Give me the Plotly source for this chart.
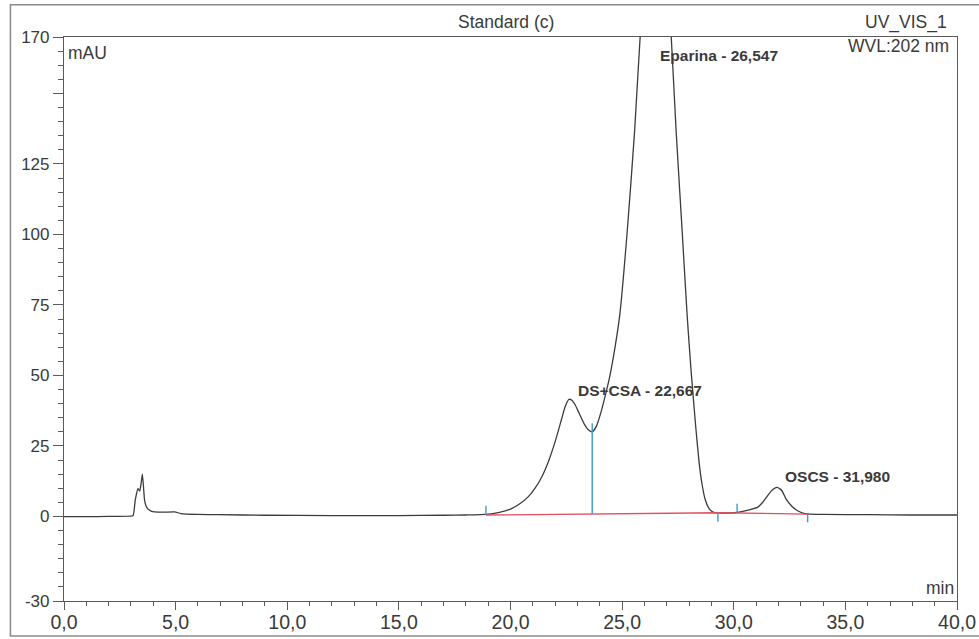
import plotly.graph_objects as go

# Chromatogram trace: retention time (min) and detector signal (mAU)
time_min = [
    0.0, 1.0, 2.0, 2.9, 3.09, 3.19, 3.31, 3.39, 3.45, 3.51, 3.56, 3.61, 3.68, 3.76,
    3.9, 4.06, 4.5, 4.96, 5.24, 6.0, 6.9, 9.0, 12.0, 15.0, 17.0, 18.0, 18.9, 19.5,
    20.0, 20.4, 20.8, 21.1, 21.4, 21.7, 22.0, 22.27, 22.45, 22.62, 22.75, 22.9,
    23.02, 23.3, 23.5, 23.66, 23.85, 24.07, 24.25, 24.43, 24.67, 24.9, 25.23, 25.56,
    25.81, 26.05, 26.3, 26.55, 26.8, 27.0, 27.2, 27.42, 27.69, 27.91, 28.09, 28.3,
    28.45, 28.58, 28.72, 28.87, 29.0, 29.14, 29.5, 30.0, 30.3, 30.7, 31.08, 31.3,
    31.52, 31.75, 31.95, 32.15, 32.34, 32.6, 32.86, 33.1, 33.31, 34.0, 36.0, 38.0, 40.0,
]
signal_mau = [
    -0.1, -0.1, 0.0, 0.1, 0.2, 5.7, 9.8, 9.0, 11.5, 15.0, 10.5, 5.7, 3.6, 2.6,
    1.9, 1.6, 1.5, 1.6, 1.0, 0.7, 0.6, 0.4, 0.3, 0.3, 0.4, 0.5, 0.7, 1.4,
    2.6, 4.4, 7.0, 10.0, 14.0, 19.5, 26.5, 34.0, 39.0, 41.5, 41.2, 39.5,
    37.5, 32.8, 30.6, 30.0, 32.0, 37.4, 43.0, 49.0, 59.4, 71.8, 101.2, 136.7,
    170.4, 193.0, 208.0, 214.0, 207.0, 192.0, 170.0, 136.5, 101.0, 71.6, 51.5, 31.5,
    19.0, 11.4, 6.0, 3.1, 1.9, 1.3, 1.2, 1.3, 1.6, 2.3, 3.3, 5.0,
    7.4, 9.5, 10.3, 9.2, 6.2, 3.6, 2.0, 1.2, 0.9, 0.7, 0.6, 0.5, 0.5,
]

# Integration baseline (red) and peak delimiters (blue)
baseline_time = [18.9, 29.29, 33.31]
baseline_mau = [0.5, 1.3, 0.8]
delim_time = [18.9, 23.66, 29.29, 30.15, 33.31]
delim_low = [0.6, 0.9, -1.9, 1.3, -2.1]
delim_high = [3.8, 33.0, 1.3, 4.5, 0.9]

# Identified peaks
peak_names = ["DS+CSA", "Eparina", "OSCS"]
peak_times = [22.667, 26.547, 31.980]

# Axis ticks
x_tickvals = [0, 5, 10, 15, 20, 25, 30, 35, 40]
x_ticktext = ["0,0", "5,0", "10,0", "15,0", "20,0", "25,0", "30,0", "35,0", "40,0"]
y_tickvals = [-30, 0, 25, 50, 75, 100, 125, 150, 170]
y_ticktext = ["-30", "0", "25", "50", "75", "100", "125", "", "170"]

FONT = "Liberation Sans, Arial, sans-serif"
INK = "#3a3a3a"
AXIS = "#5a5a5a"

fig = go.Figure()

fig.add_trace(go.Scatter(
    x=time_min, y=signal_mau, mode="lines",
    line=dict(color="#3c3c3c", width=1.3, shape="spline", smoothing=0.5),
    hoverinfo="x+y", showlegend=False,
))

fig.add_trace(go.Scatter(
    x=baseline_time, y=baseline_mau, mode="lines",
    line=dict(color="#e0505e", width=1.3), showlegend=False,
))

seg_x, seg_y = [], []
for t, lo, hi in zip(delim_time, delim_low, delim_high):
    seg_x += [t, t, None]
    seg_y += [lo, hi, None]
fig.add_trace(go.Scatter(
    x=seg_x, y=seg_y, mode="lines",
    line=dict(color="#3b9bd0", width=1.4), showlegend=False,
))

# Peak labels (left edge, vertical centre in data units)
label_pos = {"DS+CSA": (22.93, 44.5), "Eparina": (26.6, 163.6), "OSCS": (32.21, 14.3)}
for name, rt in zip(peak_names, peak_times):
    lx, ly = label_pos[name]
    fig.add_annotation(
        x=lx, y=ly, xref="x", yref="y", xanchor="left", yanchor="middle",
        text=f"<b>{name} - {rt:.3f}</b>".replace(".", ","), showarrow=False,
        font=dict(family=FONT, size=15.5, color=INK),
    )

# Header and unit captions
texts = [
    ("Standard (c)", 0.495, 1.026, "center"),
    ("UV_VIS_1", 0.991, 1.026, "right"),
    ("WVL:202 nm", 0.993, 0.984, "right"),
    ("mAU", 0.002, 0.972, "left"),
    ("min", 0.999, 0.023, "right"),
]
for txt, px, py, anchor in texts:
    fig.add_annotation(
        x=px, y=py, xref="paper", yref="paper", xanchor=anchor, yanchor="middle",
        text=txt, showarrow=False, font=dict(family=FONT, size=17.5, color=INK),
    )

# Outer report frame
fig.add_shape(
    type="rect", xref="paper", yref="paper",
    x0=-0.06, x1=1.05, y0=-0.062, y1=1.057,
    line=dict(color="#8a8a8a", width=1.5), layer="below",
)

fig.update_layout(
    width=979, height=639,
    margin=dict(l=64, r=22, t=37, b=38),
    paper_bgcolor="white", plot_bgcolor="white",
    font=dict(family=FONT, color=INK),
    showlegend=False,
    xaxis=dict(
        range=[0, 40], tickvals=x_tickvals, ticktext=x_ticktext,
        automargin=False,
        showgrid=False, zeroline=False, showline=True, mirror=True,
        linecolor=AXIS, linewidth=1.2,
        ticks="outside", ticklen=8, tickcolor=AXIS, tickwidth=1.2,
        ticklabelstandoff=-5,
        tickfont=dict(family=FONT, size=19.5, color=INK),
        minor=dict(dtick=1, tick0=0, ticks="outside", ticklen=4, tickcolor=AXIS, tickwidth=1),
    ),
    yaxis=dict(
        range=[-30, 170], tickvals=y_tickvals, ticktext=y_ticktext,
        automargin=False,
        showgrid=False, zeroline=False, showline=True, mirror=True,
        linecolor=AXIS, linewidth=1.2,
        ticks="outside", ticklen=10, tickcolor=AXIS, tickwidth=1.2,
        tickfont=dict(family=FONT, size=17, color=INK),
        minor=dict(dtick=5, tick0=0, ticks="outside", ticklen=5, tickcolor=AXIS, tickwidth=1),
    ),
)

fig.write_html("out.html")
